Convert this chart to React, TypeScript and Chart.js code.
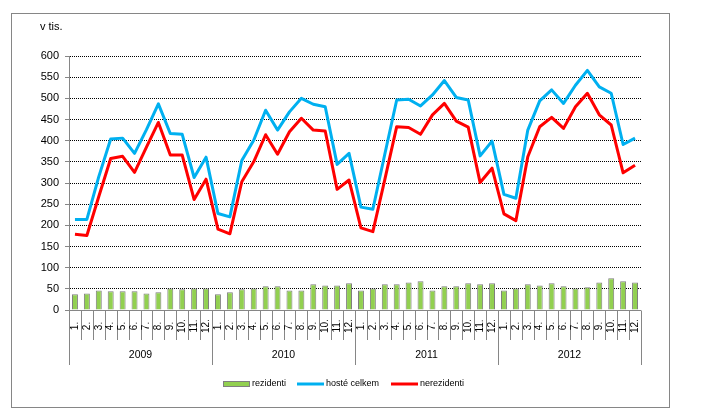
import React, { useEffect, useRef } from "react";
import { Chart, registerables } from "chart.js";

Chart.register(...registerables);

const years = ["2009", "2010", "2011", "2012"];
const months = ["1.", "2.", "3.", "4.", "5.", "6.", "7.", "8.", "9.", "10.", "11.", "12."];
const yTicks = [0, 50, 100, 150, 200, 250, 300, 350, 400, 450, 500, 550, 600];

const rezidenti = [
  37, 39, 46, 44, 44, 44, 39, 42, 51, 49, 51, 51,
  37, 42, 49, 51, 56, 56, 46, 46, 61, 58, 58, 63,
  46, 51, 61, 61, 65, 68, 46, 56, 56, 63, 61, 63,
  46, 51, 61, 58, 63, 56, 51, 54, 65, 75, 68, 65,
];
const hosteCelkem = [
  214, 214, 315, 404, 406, 370, 426, 487, 417, 415, 313, 361,
  228, 220, 353, 401, 472, 425, 468, 500, 486, 480, 344, 370,
  243, 238, 368, 496, 498, 482, 508, 542, 502, 496, 364, 399,
  273, 264, 425, 494, 520, 488, 531, 566, 527, 512, 391, 406,
];
const nerezidenti = [
  179, 176, 268, 358, 363, 325, 385, 443, 366, 366, 261, 309,
  191, 180, 303, 350, 414, 368, 421, 453, 425, 423, 285, 307,
  194, 185, 308, 433, 431, 415, 461, 488, 446, 432, 301, 335,
  227, 211, 362, 433, 455, 429, 480, 512, 461, 437, 324, 342,
];

const labels: string[] = [];
years.forEach((y) => months.forEach((m) => labels.push(m)));

const FONT = "'Liberation Sans', Arial, sans-serif";
const GRAY = "#868686";
const GREEN = "#92d050";
const BLUE = "#00b0f0";
const RED = "#ff0000";

const decor = {
  id: "decor",
  afterDraw(chart: any) {
    const ctx = chart.ctx as CanvasRenderingContext2D;
    const xs = chart.scales.x;
    const ca = chart.chartArea;
    const n = labels.length;
    ctx.save();
    // outer frame
    ctx.strokeStyle = GRAY;
    ctx.lineWidth = 1;
    ctx.strokeRect(11.5, 13.5, 658, 394);

    // unit label
    ctx.fillStyle = "#000";
    ctx.font = `11px ${FONT}`;
    ctx.textAlign = "left";
    ctx.textBaseline = "middle";
    ctx.fillText("v tis.", 40, 27);

    const bottom = Math.round(ca.bottom) + 0.5;
    // x axis line
    ctx.strokeStyle = GRAY;
    ctx.beginPath();
    ctx.moveTo(ca.left, bottom);
    ctx.lineTo(ca.right, bottom);
    ctx.stroke();

    const centers: number[] = [];
    for (let i = 0; i < n; i++) centers.push(xs.getPixelForValue(i));
    const bounds: number[] = [ca.left];
    for (let i = 1; i < n; i++) bounds.push((centers[i - 1] + centers[i]) / 2);
    bounds.push(ca.right);

    for (let i = 0; i <= n; i++) {
      const bx = Math.round(bounds[i]) + 0.5;
      const isYear = i % 12 === 0;
      ctx.beginPath();
      ctx.moveTo(bx, isYear && i === 0 ? ca.top : bottom);
      ctx.lineTo(bx, isYear ? 365 : 340);
      ctx.stroke();
    }

    // month labels (rotated)
    ctx.fillStyle = "#000";
    ctx.font = `10px ${FONT}`;
    ctx.textAlign = "center";
    ctx.textBaseline = "middle";
    for (let i = 0; i < n; i++) {
      ctx.save();
      ctx.translate(centers[i], 326);
      ctx.rotate(-Math.PI / 2);
      ctx.fillText(labels[i], 0, 0);
      ctx.restore();
    }
    // year labels
    ctx.font = `10.5px ${FONT}`;
    years.forEach((y, k) => {
      const cx = (bounds[k * 12] + bounds[k * 12 + 12]) / 2;
      ctx.fillText(y, cx, 355);
    });

    // legend
    ctx.font = `9px ${FONT}`;
    ctx.textAlign = "left";
    ctx.fillStyle = GREEN;
    ctx.fillRect(223.5, 381.5, 26, 5);
    ctx.strokeStyle = "#7f7f7f";
    ctx.strokeRect(223.5, 381.5, 26, 5);
    ctx.fillStyle = "#000";
    ctx.fillText("rezidenti", 252, 384);

    ctx.lineWidth = 3;
    ctx.strokeStyle = BLUE;
    ctx.beginPath();
    ctx.moveTo(297, 384);
    ctx.lineTo(324, 384);
    ctx.stroke();
    ctx.fillText("hosté celkem", 326, 384);

    ctx.strokeStyle = RED;
    ctx.beginPath();
    ctx.moveTo(391, 384);
    ctx.lineTo(418, 384);
    ctx.stroke();
    ctx.fillText("nerezidenti", 420, 384);
    ctx.restore();
  },
};

export default function App() {
  const ref = useRef<HTMLCanvasElement | null>(null);
  useEffect(() => {
    if (!ref.current) return;
    const chart = new Chart(ref.current, {
      type: "bar",
      data: {
        labels,
        datasets: [
          {
            type: "line",
            label: "nerezidenti",
            data: nerezidenti,
            borderColor: RED,
            backgroundColor: RED,
            borderWidth: 3,
            pointRadius: 0,
            tension: 0,
            borderJoinStyle: "round",
            order: 1,
          } as any,
          {
            type: "line",
            label: "hosté celkem",
            data: hosteCelkem,
            borderColor: BLUE,
            backgroundColor: BLUE,
            borderWidth: 3,
            pointRadius: 0,
            tension: 0,
            borderJoinStyle: "round",
            order: 2,
          } as any,
          {
            type: "bar",
            label: "rezidenti",
            data: rezidenti,
            backgroundColor: GREEN,
            borderColor: "#7f7f7f",
            borderWidth: 1,
            categoryPercentage: 1,
            barPercentage: 0.5,
            order: 3,
          } as any,
        ],
      },
      options: {
        responsive: false,
        animation: false,
        devicePixelRatio: 1,
        layout: { padding: { left: 0, top: 56, right: 60, bottom: 105 } },
        plugins: { legend: { display: false }, tooltip: { enabled: false } },
        scales: {
          x: {
            display: false,
            offset: true,
          },
          y: {
            min: 0,
            max: 600,
            afterFit: (s: any) => {
              s.width = 69;
            },
            afterBuildTicks: (s: any) => {
              s.ticks = yTicks.map((v) => ({ value: v }));
            },
            ticks: {
              color: "#000",
              font: { family: FONT, size: 11 },
              padding: 6,
            },
            grid: {
              color: "#000",
              lineWidth: 1,
              tickColor: GRAY,
              tickLength: 4,
              tickBorderDash: [],
            },
            border: { color: GRAY, width: 1, dash: [1, 1] },
          },
        },
      } as any,
      plugins: [decor],
    });
    return () => chart.destroy();
  }, []);
  return (
    <canvas
      ref={ref}
      width={701}
      height={415}
      style={{ position: "fixed", left: 0, top: 0, width: 701, height: 415 }}
    />
  );
}
